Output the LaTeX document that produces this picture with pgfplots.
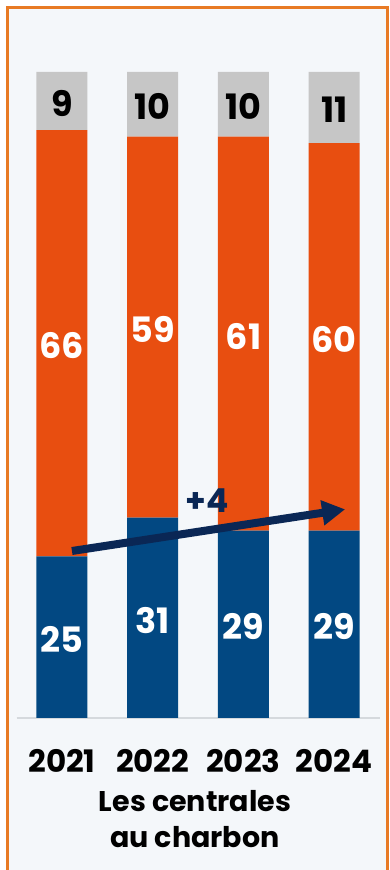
\documentclass[border=0pt]{standalone}
\usepackage{pgfplots}
\pgfplotsset{compat=1.18}
\usepackage{pgfplotstable}
\usepackage{fontspec}
\setmainfont{Poppins}
\usetikzlibrary{arrows.meta}
\definecolor{cblue}{HTML}{024882}
\definecolor{corange}{HTML}{E84E10}
\definecolor{cgray}{HTML}{C6C6C6}
\definecolor{cframe}{HTML}{E87A24}
\definecolor{cbg}{HTML}{F4F7FA}
\definecolor{cnavy}{HTML}{0A2755}
\definecolor{cbase}{HTML}{D5D9DD}

\pgfplotstableread{
x blue orange gray
0 25 66 9
1 31 59 10
2 29 61 10
3 29 60 11
}\data

\pgfplotsset{
  myaxis/.style={
    at={(16.6pt,152pt)}, anchor=south west,
    scale only axis, width=363pt, height=646pt,
    xmin=-0.5, xmax=3.5, ymin=0, ymax=100,
    clip=false,
    /pgf/number format/assume math mode=true,
  }
}

\begin{document}
\begin{tikzpicture}[x=1pt,y=1pt]
\useasboundingbox (0,0) rectangle (390,870);
\fill[white] (0,0) rectangle (390,870);
\fill[cbg] (7.5,-10) rectangle (387.5,862.5);
\draw[cframe, line width=3pt] (7.5,-10) -- (7.5,862.5) -- (387.5,862.5) -- (387.5,-10);
\begin{axis}[
  myaxis,
  ybar stacked, bar width=51pt,
  axis y line=none, axis x line*=bottom,
  x axis line style={cbase, line width=1.5pt, -},
  xtick={0,1,2,3}, xticklabels={2021,2022,2023,2024},
  major tick length=0pt,
  xticklabel style={anchor=base, yshift=-55pt, font=\fontsize{31}{36}\selectfont\bfseries},
  ytick=\empty,
]
\addplot[fill=cblue, draw=none] table[x=x, y=blue]{\data};
\addplot[fill=corange, draw=none] table[x=x, y=orange]{\data};
\addplot[fill=cgray, draw=none] table[x=x, y=gray]{\data};
\coordinate (A1) at (axis cs:0.11,25.85);
\coordinate (A2) at (axis cs:3.12,32.3);
\coordinate (P4) at (axis cs:1.6,33.7);
\end{axis}
\begin{axis}[
  myaxis, hide axis,
  nodes near coords, point meta=explicit,
  every node near coord/.append style={anchor=center, inner sep=0pt, yshift=-2.5pt, font=\fontsize{35}{40}\selectfont\bfseries},
]
\addplot[draw=none, mark=none, nodes near coords style={white}] table[x=x, y expr={\thisrow{blue}/2}, meta=blue]{\data};
\addplot[draw=none, mark=none, nodes near coords style={white}] table[x=x, y expr={\thisrow{blue}+\thisrow{orange}/2}, meta=orange]{\data};
\addplot[draw=none, mark=none, nodes near coords style={black}] table[x=x, y expr={\thisrow{blue}+\thisrow{orange}+\thisrow{gray}/2}, meta=gray]{\data};
\end{axis}
\draw[cnavy, line width=8pt, -{Triangle[length=23pt,width=24pt]}] (A1) -- (A2);
\node[cnavy, font=\fontsize{33}{36}\selectfont\bfseries] at (P4) {+4};
\node[anchor=base, font=\fontsize{28.5}{32}\selectfont\bfseries] at (195,58.3) {Les centrales};
\node[anchor=base, font=\fontsize{28.5}{32}\selectfont\bfseries] at (195,22) {au charbon};
\end{tikzpicture}
\end{document}
